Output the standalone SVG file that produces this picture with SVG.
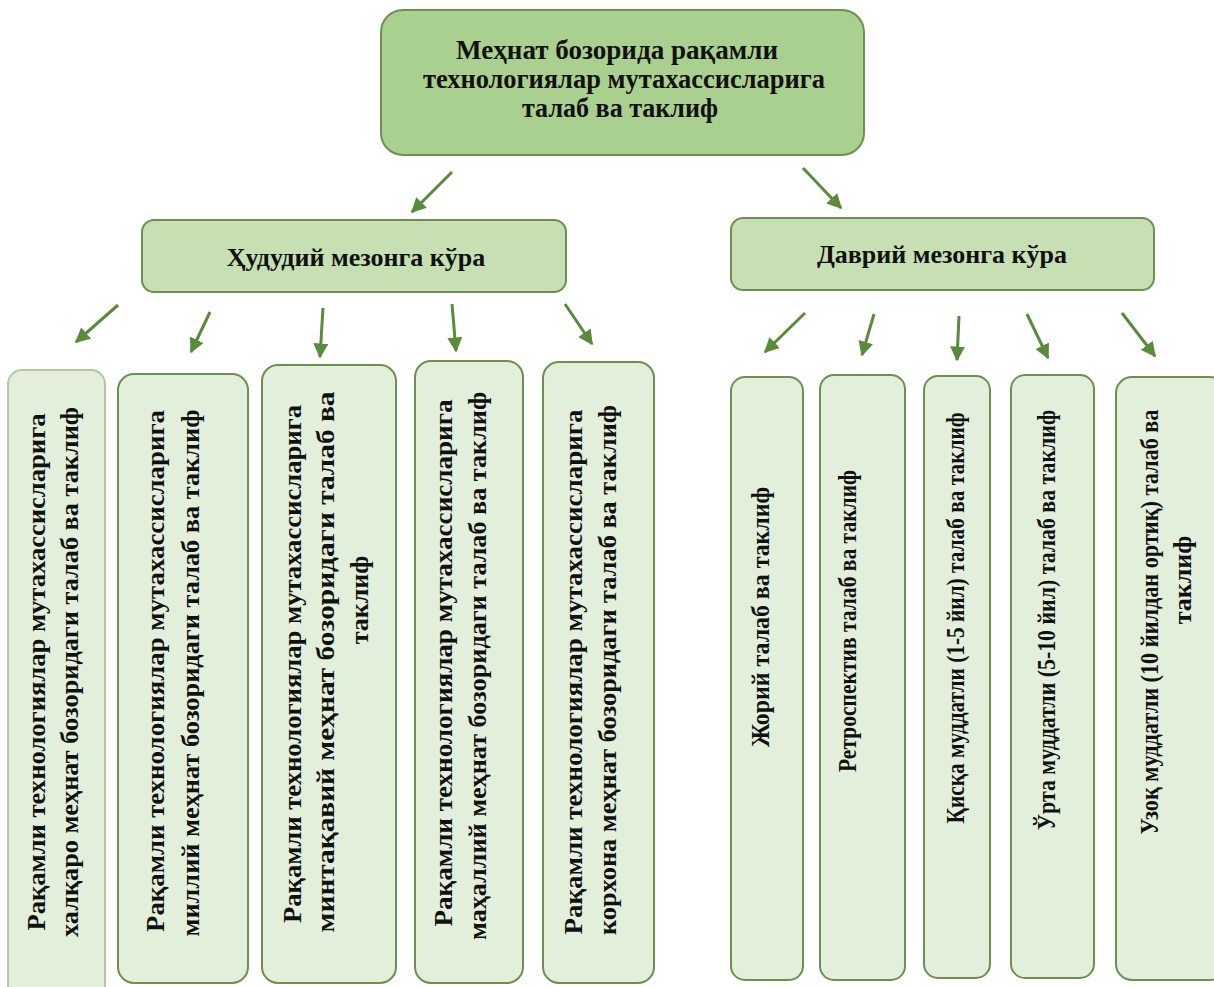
<svg xmlns="http://www.w3.org/2000/svg" width="1214" height="987" viewBox="0 0 1214 987">
<defs>
<style>
.t{font-family:"Liberation Serif","Times New Roman",serif;font-weight:bold;font-size:26px;fill:#111;}
.tt{font-size:27px;}
.top{fill:#a9d08e;stroke:#6f8f52;stroke-width:2;}
.mid{fill:#c6e0b4;stroke:#6f8f52;stroke-width:2;}
.leaf{fill:#e2efda;stroke:#6f8f52;stroke-width:2;}
.faint{stroke:#b5c7a5;}
.arr{stroke:#5a8a3c;stroke-width:3;fill:none;marker-end:url(#ah);}
</style>
<marker id="ah" viewBox="0 0 10 10" refX="9" refY="5" markerWidth="5" markerHeight="5" orient="auto" markerUnits="strokeWidth">
<path d="M0,0 L10,5 L0,10 z" fill="#5a8a3c"/>
</marker>
</defs>
<rect width="1214" height="987" fill="#fff"/>

<g id="connectors">
<line class="arr" x1="452" y1="172" x2="412" y2="212"/>
<line class="arr" x1="803" y1="168" x2="841" y2="208"/>
<line class="arr" x1="118" y1="305" x2="76" y2="342"/>
<line class="arr" x1="210" y1="312" x2="191" y2="352"/>
<line class="arr" x1="323" y1="308" x2="320" y2="357"/>
<line class="arr" x1="452" y1="304" x2="456" y2="351"/>
<line class="arr" x1="565" y1="304" x2="592" y2="344"/>
<line class="arr" x1="805" y1="313" x2="765" y2="352"/>
<line class="arr" x1="874" y1="314" x2="862" y2="355"/>
<line class="arr" x1="959" y1="316" x2="957" y2="360"/>
<line class="arr" x1="1027" y1="314" x2="1048" y2="358"/>
<line class="arr" x1="1122" y1="313" x2="1155" y2="356"/>
</g>

<g id="root">
<rect class="top" x="381" y="10" width="483" height="145" rx="22"/>
<text class="t tt" x="617" y="59" text-anchor="middle" textLength="322" lengthAdjust="spacingAndGlyphs">Меҳнат бозорида рақамли</text>
<text class="t tt" x="624" y="88" text-anchor="middle" textLength="402" lengthAdjust="spacingAndGlyphs">технологиялар мутахассисларига</text>
<text class="t tt" x="620" y="117" text-anchor="middle" textLength="196" lengthAdjust="spacingAndGlyphs">талаб ва таклиф</text>
</g>

<g id="territorial">
<rect class="mid" x="142" y="220" width="424" height="72" rx="12"/>
<text class="t" x="356" y="266" text-anchor="middle">Ҳудудий мезонга кўра</text>
</g>

<g id="temporal">
<rect class="mid" x="731" y="218" width="423" height="72" rx="12"/>
<text class="t" x="942" y="263" text-anchor="middle">Даврий мезонга кўра</text>
</g>

<g id="international">
<rect class="leaf faint" x="8" y="370" width="97" height="630" rx="14"/>
<text class="t" transform="translate(45,672) rotate(-90)" text-anchor="middle" textLength="517" lengthAdjust="spacingAndGlyphs">Рақамли технологиялар мутахассисларига</text>
<text class="t" transform="translate(78,672) rotate(-90)" text-anchor="middle" textLength="530" lengthAdjust="spacingAndGlyphs">халқаро меҳнат бозоридаги талаб ва таклиф</text>
</g>

<g id="national">
<rect class="leaf" x="118" y="374" width="130" height="609" rx="16"/>
<text class="t" transform="translate(164,671) rotate(-90)" text-anchor="middle" textLength="522" lengthAdjust="spacingAndGlyphs">Рақамли технологиялар мутахассисларига</text>
<text class="t" transform="translate(199,673) rotate(-90)" text-anchor="middle" textLength="527" lengthAdjust="spacingAndGlyphs">миллий меҳнат бозоридаги талаб ва таклиф</text>
</g>

<g id="regional">
<rect class="leaf" x="262" y="365" width="134" height="618" rx="16"/>
<text class="t" transform="translate(301,664) rotate(-90)" text-anchor="middle" textLength="518" lengthAdjust="spacingAndGlyphs">Рақамли технологиялар мутахассисларига</text>
<text class="t" transform="translate(334,662) rotate(-90)" text-anchor="middle" textLength="541" lengthAdjust="spacingAndGlyphs">минтақавий меҳнат бозоридаги талаб ва</text>
<text class="t" transform="translate(368,600) rotate(-90)" text-anchor="middle">таклиф</text>
</g>

<g id="local">
<rect class="leaf" x="415" y="361" width="108" height="622" rx="16"/>
<text class="t" transform="translate(452,663) rotate(-90)" text-anchor="middle" textLength="527" lengthAdjust="spacingAndGlyphs">Рақамли технологиялар мутахассисларига</text>
<text class="t" transform="translate(486,666) rotate(-90)" text-anchor="middle" textLength="548" lengthAdjust="spacingAndGlyphs">маҳаллий меҳнат бозоридаги талаб ва таклиф</text>
</g>

<g id="enterprise">
<rect class="leaf" x="543" y="362" width="111" height="621" rx="16"/>
<text class="t" transform="translate(582,672) rotate(-90)" text-anchor="middle" textLength="525" lengthAdjust="spacingAndGlyphs">Рақамли технологиялар мутахассисларига</text>
<text class="t" transform="translate(616,670) rotate(-90)" text-anchor="middle" textLength="530" lengthAdjust="spacingAndGlyphs">корхона меҳнат бозоридаги талаб ва таклиф</text>
</g>

<g id="current">
<rect class="leaf" x="731" y="377" width="72" height="603" rx="14"/>
<text class="t" transform="translate(769,617) rotate(-90)" text-anchor="middle" textLength="260" lengthAdjust="spacingAndGlyphs">Жорий талаб ва таклиф</text>
</g>

<g id="retrospective">
<rect class="leaf" x="820" y="375" width="85" height="605" rx="14"/>
<text class="t" transform="translate(856,621) rotate(-90)" text-anchor="middle" textLength="302" lengthAdjust="spacingAndGlyphs">Ретроспектив талаб ва таклиф</text>
</g>

<g id="short-term">
<rect class="leaf" x="924" y="376" width="66" height="602" rx="14"/>
<text class="t" transform="translate(964,618) rotate(-90)" text-anchor="middle" textLength="411" lengthAdjust="spacingAndGlyphs">Қисқа муддатли (1-5 йил) талаб ва таклиф</text>
</g>

<g id="medium-term">
<rect class="leaf" x="1011" y="375" width="83" height="603" rx="14"/>
<text class="t" transform="translate(1055,620) rotate(-90)" text-anchor="middle" textLength="420" lengthAdjust="spacingAndGlyphs">Ўрта муддатли (5-10 йил) талаб ва таклиф</text>
</g>

<g id="long-term">
<rect class="leaf" x="1116" y="377" width="110" height="603" rx="16"/>
<text class="t" transform="translate(1158,622) rotate(-90)" text-anchor="middle" textLength="425" lengthAdjust="spacingAndGlyphs">Узоқ муддатли (10 йилдан ортиқ) талаб ва</text>
<text class="t" transform="translate(1191,580) rotate(-90)" text-anchor="middle">таклиф</text>
</g>
</svg>
